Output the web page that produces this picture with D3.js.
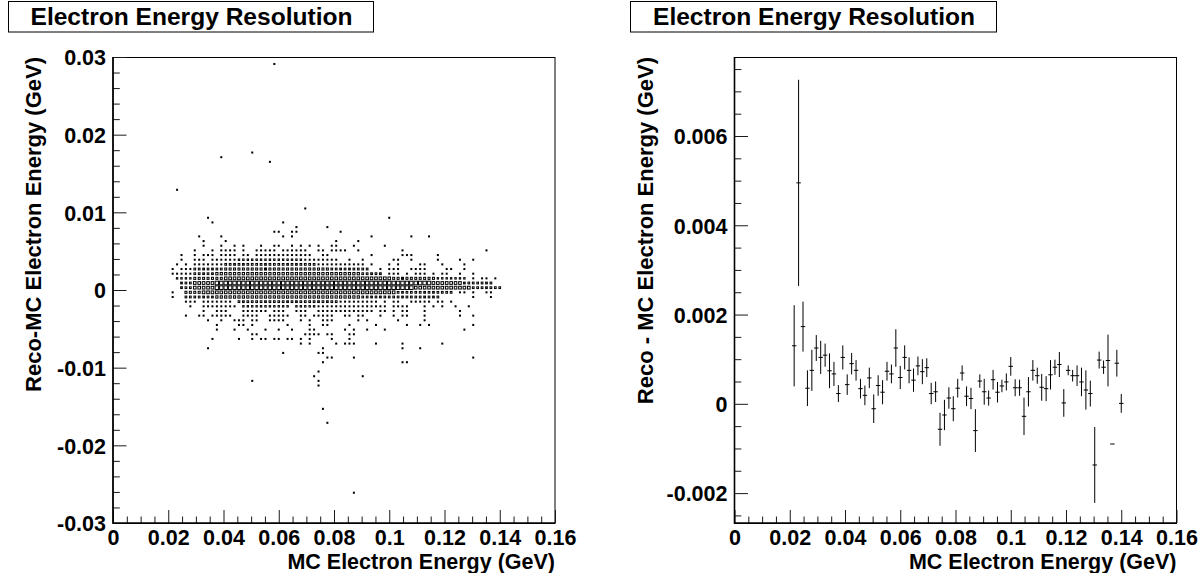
<!DOCTYPE html>
<html>
<head>
<meta charset="utf-8">
<script src="https://cdn.jsdelivr.net/npm/d3@7/dist/d3.min.js"></script>
<style>
html,body{margin:0;padding:0;background:#fff;}
svg text{font-family:"Liberation Sans",Arial,Helvetica,sans-serif;font-weight:bold;fill:#000;}
</style>
</head>
<body>
<svg id="chart" width="1200" height="573"></svg>
<script>
// ---------------- data ----------------
const titleText = "Electron Energy Resolution";
const xAxisTitle = "MC Electron Energy (GeV)";
const leftYAxisTitle = "Reco-MC Electron Energy (GeV)";
const rightYAxisTitle = "Reco - MC Electron Energy (GeV)";

const xTickValues = [0, 0.02, 0.04, 0.06, 0.08, 0.1, 0.12, 0.14, 0.16];
const xTickLabels = ["0", "0.02", "0.04", "0.06", "0.08", "0.1", "0.12", "0.14", "0.16"];
const leftYTickValues = [-0.03, -0.02, -0.01, 0, 0.01, 0.02, 0.03];
const leftYTickLabels = ["-0.03", "-0.02", "-0.01", "0", "0.01", "0.02", "0.03"];
const rightYTickValues = [-0.002, 0, 0.002, 0.004, 0.006];
const rightYTickLabels = ["-0.002", "0", "0.002", "0.004", "0.006"];

const xRange = [0, 0.16];
const leftYRange = [-0.03, 0.03];
const rightYRange = [-0.00267, 0.00777];
const nBinsX = 100, nBinsY = 100;

// 2D histogram (box drawing): [y-bin, "x-bin or range[:content] ..."]
const scatterRows = [
  [98, "36"],
  [79, "31"],
  [78, "24"],
  [77, "35"],
  [71, "14"],
  [67, "43"],
  [65, "21 62"],
  [64, "22 38"],
  [63, "41 48"],
  [62, "36 37 40 41 51"],
  [61, "19 24 38 40 58 67 71"],
  [60, "20 25 50 55"],
  [59, "20 24 27 29 33 36 37 40 42 44 46 49 50 54 61"],
  [58, "18 22 24-27 29 32-36 38-43 46 47 49-52 55 65 84"],
  [57, "15 18 20-22 24-27 29 30 32-44 47 48 58 65-67 73"],
  [56, "15 18-20 22-27 28-42:2 43-50 53 56 63 64 67 73 78 81"],
  [55, "14 16 18-24 25-45:3 46-56 58 62 64 69 70 74 79"],
  [54, "13 15-17 18-24:3 25-48:4 49-57:3 60 62-64 67-70 75 76 79"],
  [53, "13-17 18-22:3 23-55:5 56-60:3 62-64 66 68-70 72 74 75 78 81"],
  [52, "14-17:2 18-24:4 25-62:7 63-72:4 73-79:2 81 83 84 86"],
  [51, "15-17:3 18-22:7 23-71:12 72-78:7 79-85:3"],
  [50, "15-17:3 18-22:7 23-67:12 68-80:7 81-87:3"],
  [49, "13 16-19:4 20-63:7 64-76:3 78 79 81 84 85"],
  [48, "13 16-22:3 23-55:5 56-73:3 81 85"],
  [47, "16-18 20-26 28-50:3 51-59 61 63 64 67-71 73 74 76"],
  [46, "17 20-27 29-39:2 41-45:2 46-61 63-66 70 72 74 77 80"],
  [45, "20 23-25 29-34 36-38 41-43 46-58 60 61 63 65 66 70 78"],
  [44, "16 19 20 22-26 29-32 35-39 42 43 45-49 52 53 55 56 60 63 65 66 70 78 81"],
  [43, "21 24 27-29 31 32 35-38 42 44 47-49 55 57 64 70"],
  [42, "23 28 29 31 39 44 47 48 53 59 66 69 71 81"],
  [41, "23 27 30 34 37 40 44 45 52 54 57 61 79"],
  [40, "31 32 43-46 48 49 53 54"],
  [39, "22 28 31 33 34 36 37 39 40 42 44 49 53"],
  [38, "42 44 50 52-54 59 65 74"],
  [37, "21 47 65 69"],
  [36, "38 46 47"],
  [35, "48 49 54 81"],
  [34, "47 65 66"],
  [32, "46"],
  [31, "45 56"],
  [30, "31 46"],
  [29, "46"],
  [24, "47"],
  [21, "48"],
  [6, "54"]
];
const scatterMaxContent = 20;

// profile (mean +- error per x-bin)
const profileBins = [13,14,15,16,17,18,19,20,21,22,23,24,25,26,27,28,29,30,31,32,33,34,35,36,37,38,39,40,41,42,43,44,45,46,47,48,49,50,51,52,53,54,55,56,57,58,59,60,61,62,63,64,65,66,67,68,69,70,71,72,73,74,75,76,77,78,79,80,81,82,83,84,85,86,87];
const profileMean = [0.00130,0.00495,0.00173,0.00035,0.00075,0.00125,0.00104,0.00109,0.00074,0.00067,
  0.00023,0.00104,0.00043,0.00090,0.00075,0.00034,0.00019,0.00058,-0.00011,0.00041,
  0.00026,0.00073,0.00067,0.00125,0.00059,0.00104,0.00075,0.00053,0.00085,0.00072,
  0.00081,0.00023,0.00027,-0.00057,-0.00025,0.00013,-0.00011,0.00035,0.00069,0.00017,
  0.00012,-0.00060,0.00051,0.00027,0.00013,0.00054,0.00026,0.00040,0.00049,0.00084,
  0.00036,0.00036,-0.00028,0.00027,0.00075,0.00063,0.00037,0.00034,0.00065,0.00082,
  0.00088,0.00002,0.00075,0.00063,0.00063,0.00049,0.00031,0.00023,-0.00137,0.00098,
  0.00082,0.00097,-0.00090,0.00091,0.00001];
const profileError = [0.00091,0.00231,0.00056,0.00040,0.00046,0.00029,0.00037,0.00026,0.00039,0.00027,
  0.00019,0.00027,0.00023,0.00024,0.00023,0.00022,0.00022,0.00023,0.00032,0.00023,
  0.00027,0.00021,0.00021,0.00042,0.00026,0.00027,0.00029,0.00026,0.00021,0.00028,
  0.00021,0.00024,0.00023,0.00037,0.00034,0.00024,0.00028,0.00021,0.00017,0.00022,
  0.00024,0.00048,0.00015,0.00029,0.00017,0.00022,0.00023,0.00014,0.00019,0.00021,
  0.00019,0.00018,0.00042,0.00033,0.00023,0.00018,0.00030,0.00028,0.00033,0.00017,
  0.00028,0.00031,0.00011,0.00013,0.00023,0.00032,0.00044,0.00029,0.00085,0.00019,
  0.00015,0.00058,0.00000,0.00030,0.00021];

// ---------------- layout ----------------
const svg = d3.select("#chart");
const FT = 57, FB = 523;
const LABEL_SIZE = 21.5;
const panels = [
  {x0: 113, x1: 555, box: [8, 373], yRange: leftYRange, yTicks: leftYTickValues, yLabels: leftYTickLabels,
   yMinorStep: 0.002, yTitle: leftYAxisTitle, yTitleX: 41},
  {x0: 734.5, x1: 1176.5, box: [630, 996], yRange: rightYRange, yTicks: rightYTickValues, yLabels: rightYTickLabels,
   yMinorStep: 0.0005, yTitle: rightYAxisTitle, yTitleX: 653}
];

function minorTicks(domain, step, majors) {
  const out = [];
  const n0 = Math.ceil(domain[0] / step - 1e-6), n1 = Math.floor(domain[1] / step + 1e-6);
  for (let n = n0; n <= n1; n++) {
    const v = n * step;
    if (!majors.some(m => Math.abs(m - v) < step * 1e-3)) out.push(v);
  }
  return out;
}

function styleAxis(g) {
  g.select(".domain").remove();
  g.attr("font-size", LABEL_SIZE).attr("font-family", null);
  g.selectAll("line").attr("stroke", "#1a1a1a").attr("stroke-width", 1);
}

panels.forEach((P, pi) => {
  const xs = d3.scaleLinear().domain(xRange).range([P.x0, P.x1]);
  const ys = d3.scaleLinear().domain(P.yRange).range([FB, FT]);
  P.xs = xs; P.ys = ys;

  // title box
  svg.append("rect").attr("x", P.box[0] + 0.5).attr("y", 1.5)
    .attr("width", P.box[1] - P.box[0]).attr("height", 30.5)
    .attr("fill", "#fff").attr("stroke", "#000").attr("stroke-width", 1);
  svg.append("text").attr("x", (P.box[0] + P.box[1]) / 2 + 1).attr("y", 25)
    .attr("text-anchor", "middle").attr("font-size", 23)
    .attr("textLength", 322).attr("lengthAdjust", "spacingAndGlyphs")
    .text(titleText);

  // frame
  svg.append("rect").attr("x", P.x0).attr("y", FT + 0.5)
    .attr("width", P.x1 - P.x0).attr("height", FB - FT)
    .attr("fill", "none").attr("stroke", "#000").attr("stroke-width", 1);

  // x axis
  const xMinor = minorTicks(xRange, 0.005, xTickValues);
  const gxm = svg.append("g").attr("transform", `translate(0,${FB})`)
    .call(d3.axisBottom(xs).tickValues(xMinor).tickSize(-6.5).tickFormat(""));
  styleAxis(gxm);
  const gx = svg.append("g").attr("transform", `translate(0,${FB})`)
    .call(d3.axisBottom(xs).tickValues(xTickValues).tickSize(-13).tickPadding(7)
      .tickFormat((d, i) => xTickLabels[i]));
  styleAxis(gx);

  // y axis
  const yMinor = minorTicks(P.yRange, P.yMinorStep, P.yTicks);
  const gym = svg.append("g").attr("transform", `translate(${P.x0},0)`)
    .call(d3.axisLeft(ys).tickValues(yMinor).tickSize(-6.8).tickFormat(""));
  styleAxis(gym);
  const gy = svg.append("g").attr("transform", `translate(${P.x0},0)`)
    .call(d3.axisLeft(ys).tickValues(P.yTicks).tickSize(-13.5).tickPadding(7)
      .tickFormat((d, i) => P.yLabels[i]));
  styleAxis(gy);
  gy.selectAll("text").attr("dy", "0.36em");

  // thicker axis lines
  svg.append("line").attr("x1", P.x0).attr("x2", P.x0).attr("y1", FT).attr("y2", FB + 0.8)
    .attr("stroke", "#000").attr("stroke-width", 1.6);
  svg.append("line").attr("x1", P.x0).attr("x2", P.x1).attr("y1", FB).attr("y2", FB)
    .attr("stroke", "#000").attr("stroke-width", 1.6);

  // axis titles
  svg.append("text").attr("x", P.x1).attr("y", 569).attr("text-anchor", "end")
    .attr("font-size", LABEL_SIZE).text(xAxisTitle);
  svg.append("text").attr("transform", `translate(${P.yTitleX},${FT}) rotate(-90)`)
    .attr("text-anchor", "end").attr("font-size", 22).text(P.yTitle);
});

// ---------------- left: 2D box histogram ----------------
(function () {
  const P = panels[0];
  const bw = (xRange[1] - xRange[0]) / nBinsX;
  const bh = (leftYRange[1] - leftYRange[0]) / nBinsY;
  const cells = [];
  scatterRows.forEach(([j, s]) => {
    s.trim().split(/\s+/).forEach(tok => {
      const [rng, cStr] = tok.split(":");
      const c = cStr ? +cStr : 1;
      const parts = rng.split("-").map(Number);
      const a = parts[0], b = parts.length > 1 ? parts[1] : parts[0];
      for (let i = a; i <= b; i++) cells.push({i, j, c});
    });
  });
  const binWpx = Math.abs(P.xs(bw) - P.xs(0));
  const binHpx = Math.abs(P.ys(bh) - P.ys(0));
  const sw = d3.scaleSqrt().domain([0, scatterMaxContent]).range([0, binWpx]);
  const sh = d3.scaleSqrt().domain([0, scatterMaxContent]).range([0, binHpx]);
  svg.append("g").selectAll("rect").data(cells).join("rect")
    .attr("x", d => P.xs(xRange[0] + (d.i + 0.5) * bw) - sw(d.c) / 2)
    .attr("y", d => P.ys(leftYRange[0] + (d.j + 0.5) * bh) - sh(d.c) / 2)
    .attr("width", d => sw(d.c))
    .attr("height", d => sh(d.c))
    .attr("fill", "none").attr("stroke", "#000").attr("stroke-width", 1);
})();

// ---------------- right: profile with error bars ----------------
(function () {
  const P = panels[1];
  const bw = (xRange[1] - xRange[0]) / nBinsX;
  const pts = profileBins.map((b, k) => ({b, m: profileMean[k], e: profileError[k]}));
  const g = svg.append("g");
  g.selectAll("line.v").data(pts.filter(d => d.e > 0)).join("line").attr("class", "v")
    .attr("x1", d => P.xs((d.b + 0.5) * bw)).attr("x2", d => P.xs((d.b + 0.5) * bw))
    .attr("y1", d => P.ys(d.m - d.e)).attr("y2", d => P.ys(d.m + d.e))
    .attr("stroke", "#000").attr("stroke-width", 1);
  g.selectAll("line.h").data(pts).join("line").attr("class", "h")
    .attr("x1", d => P.xs(d.b * bw)).attr("x2", d => P.xs((d.b + 1) * bw))
    .attr("y1", d => P.ys(d.m)).attr("y2", d => P.ys(d.m))
    .attr("stroke", "#000").attr("stroke-width", 1);
})();
</script>
</body>
</html>
